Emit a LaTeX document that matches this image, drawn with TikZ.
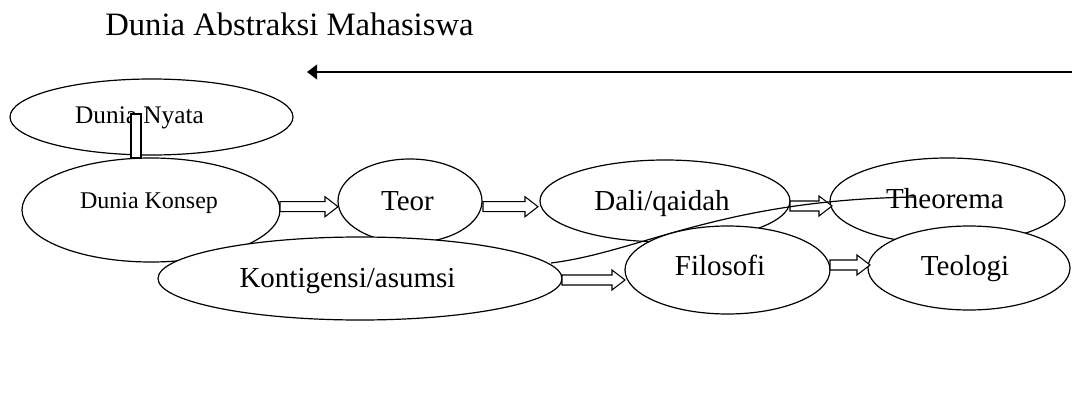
\documentclass[tikz,border=0pt]{standalone}
\usepackage{fontspec}
\setmainfont{Liberation Serif}
\usetikzlibrary{shapes.geometric,arrows.meta}
\newlength\pxu \setlength\pxu{0.75pt}
\tikzset{
  ell/.style={ellipse, draw, line width=0.9pt, fill=white, inner sep=0pt},
  lbl/.style={anchor=base, inner sep=0pt, font=\fontsize{21.75}{24}\selectfont},
  blk/.style={draw, line width=0.8pt, fill=white, line join=miter},
  conn/.style={line width=0.9pt},
}
% block arrow: x start, x tip, y centre
\newcommand\harrow[3]{%
  \draw[blk] (#1,{#3-5}) -- ({#2-13},{#3-5}) -- ({#2-13},{#3-10}) -- (#2,#3)
    -- ({#2-13},{#3+10}) -- ({#2-13},{#3+5}) -- (#1,{#3+5}) -- cycle;}
\begin{document}
\begin{tikzpicture}[x=0.75pt,y=-0.75pt]
\useasboundingbox (0,0) rectangle (1072,396);
% title
\node[anchor=base west, inner sep=0pt, font=\fontsize{24.5}{28}\selectfont] (title) at (105,36) {Dunia Abstraksi Mahasiswa};
% long arrow
\coordinate (aS) at (1072,72);
\coordinate (aE) at (307,72);
\draw[line width=1.2pt, -{Triangle[length=7.5pt,width=11pt]}] (aS) -- (aE);
% first row / back layer
\node[ell, minimum width=144\pxu, minimum height=84\pxu] (teor) at (410,201) {};
\node[lbl] (teorT) at (407.5,210) {Teor};
\node[ell, minimum width=258\pxu, minimum height=104\pxu] (dk) at (151,210) {};
\node[anchor=base, inner sep=0pt, font=\fontsize{18}{20}\selectfont] (dkT) at (149,208) {Dunia Konsep};
\node[ell, minimum width=404\pxu, minimum height=83\pxu] (kont) at (360,278.5) {};
\node[lbl] (kontT) at (347.5,287) {Kontigensi/asumsi};
\node[ell, minimum width=250\pxu, minimum height=82\pxu] (dali) at (665,201) {};
\node[lbl] (daliT) at (662,210) {Dali/qaidah};
\node[ell, minimum width=235\pxu, minimum height=86\pxu] (theo) at (947.5,201) {};
\node[lbl] (theoT) at (945,208) {Theorema};
% block arrows
\harrow{280}{338}{206.7}
\harrow{483}{538}{206.7}
\harrow{790}{832}{206}
\harrow{562}{625}{280}
% curve
\coordinate (k1) at (551,263);
\coordinate (t1) at (915,197);
\draw[conn] (k1) .. controls (640,252) and (720,200) .. (t1);
% front layer
\node[ell, minimum width=205\pxu, minimum height=88\pxu] (filo) at (727.5,270) {};
\node[lbl] (filoT) at (720,275) {Filosofi};
\node[ell, minimum width=202\pxu, minimum height=84\pxu] (teol) at (969,268) {};
\node[lbl] (teolT) at (965,275) {Teologi};
\harrow{830}{870}{265}
% Dunia Nyata
\node[ell, minimum width=283\pxu, minimum height=76\pxu] (dn) at (151.5,117) {};
\node[anchor=base, inner sep=0pt, font=\fontsize{19}{21}\selectfont] (dnT) at (139.5,123) {Dunia Nyata};
\draw[blk] (131,114) rectangle (141,158);
\end{tikzpicture}
\end{document}
